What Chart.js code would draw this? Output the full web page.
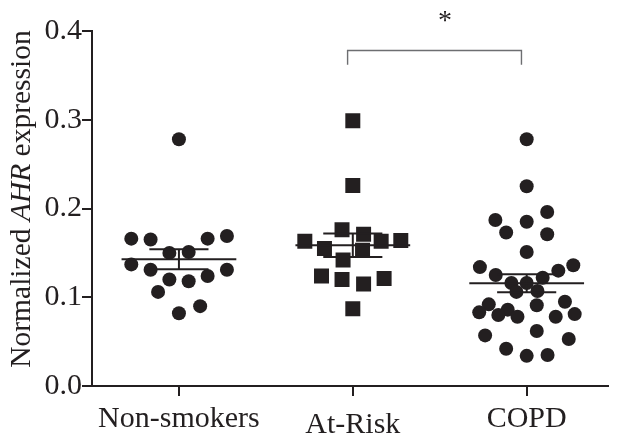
<!DOCTYPE html>
<html>
<head>
<meta charset="utf-8">
<script src="https://cdn.jsdelivr.net/npm/chart.js@4.4.1/dist/chart.umd.min.js"></script>
<style>
  html, body { margin: 0; padding: 0; background: #fff; overflow: hidden; }
  #chart { display: block; width: 619px; height: 438px; }
</style>
</head>
<body>
<canvas id="chart" width="619" height="438"></canvas>
<script>
// groups on the x axis
const groups = ['Non-smokers', 'At-Risk', 'COPD'];

// normalized AHR expression per subject
const nonSmokers = [0.278, 0.166, 0.165, 0.166, 0.169, 0.150, 0.151, 0.137, 0.131, 0.131, 0.120, 0.118, 0.124, 0.106, 0.082, 0.090];
const atRisk = [0.299, 0.226, 0.176, 0.171, 0.163, 0.163, 0.164, 0.155, 0.153, 0.142, 0.124, 0.120, 0.115, 0.121, 0.087];
const copd = [0.278, 0.225, 0.196, 0.187, 0.185, 0.173, 0.171, 0.151, 0.134, 0.136, 0.130, 0.125, 0.122, 0.116, 0.116,
  0.106, 0.107, 0.092, 0.095, 0.083, 0.086, 0.091, 0.080, 0.078, 0.081, 0.078, 0.057, 0.062, 0.053, 0.042, 0.034, 0.035];

// horizontal scatter of each dot around its group, in group units
const nonSmokersJitter = [0, -0.274, -0.163, 0.165, 0.276, -0.055, 0.056, -0.274, -0.163, 0.276, -0.055, 0.056, 0.165, -0.120, 0, 0.122];
const atRiskJitter = [0, 0, -0.062, 0.062, -0.276, 0.163, 0.276, -0.163, 0.056, -0.056, -0.180, -0.062, 0.062, 0.180, 0];
const copdJitter = [0, 0, 0.118, -0.180, 0, -0.118, 0.118, 0, -0.269, 0.268, 0.182, -0.178, 0.092, -0.088, 0,
  -0.059, 0.062, -0.218, 0.220, -0.273, -0.109, 0.058, -0.163, -0.053, 0.276, 0.167, -0.239, 0.058, 0.242, -0.118, 0, 0.120];

const yTicks = [0, 0.1, 0.2, 0.3, 0.4];

// significance bracket between At-Risk and COPD
const bracketX = [1.97, 2.97];
const bracketY = [0.362, 0.378];
const starLabel = '*';
const starPos = [2.53, 0.411];

const ink = '#231f20';
const serif = '"Liberation Serif", "Times New Roman", serif';

function stats(v) {
  const n = v.length;
  const mean = v.reduce((a, b) => a + b, 0) / n;
  const sd = Math.sqrt(v.reduce((a, b) => a + (b - mean) ** 2, 0) / (n - 1));
  return { mean, sem: sd / Math.sqrt(n) };
}

function dots(values, jitter, idx) {
  return values.map((y, i) => ({ x: idx + 1 + jitter[i], y }));
}

const pointSets = [
  { data: dots(nonSmokers, nonSmokersJitter, 0), pointStyle: 'circle', pointRadius: 7 },
  { data: dots(atRisk, atRiskJitter, 1), pointStyle: 'rect', pointRadius: 10.6 },
  { data: dots(copd, copdJitter, 2), pointStyle: 'circle', pointRadius: 7 }
].map((d) => ({
  ...d,
  type: 'scatter',
  backgroundColor: ink,
  borderWidth: 0,
  order: 2
}));

// mean line plus SEM whiskers as plain line segments
const lineSets = [];
[nonSmokers, atRisk, copd].forEach((vals, i) => {
  const c = i + 1;
  const { mean, sem } = stats(vals);
  const segs = [
    [[c - 0.33, mean], [c + 0.33, mean]],
    [[c, mean - sem], [c, mean + sem]],
    [[c - 0.17, mean + sem], [c + 0.17, mean + sem]],
    [[c - 0.17, mean - sem], [c + 0.17, mean - sem]]
  ];
  segs.forEach((s) => {
    lineSets.push({
      type: 'line',
      data: s.map(([x, y]) => ({ x, y })),
      borderColor: ink,
      borderWidth: 2,
      pointRadius: 0,
      fill: false,
      order: 0
    });
  });
});

const extras = {
  id: 'extras',
  afterDraw(chart) {
    const { ctx, scales: { x, y } } = chart;
    ctx.save();
    // bracket
    const x1 = x.getPixelForValue(bracketX[0]);
    const x2 = x.getPixelForValue(bracketX[1]);
    const yLow = y.getPixelForValue(bracketY[0]);
    const yTop = y.getPixelForValue(bracketY[1]);
    ctx.strokeStyle = '#6d6e71';
    ctx.lineWidth = 1.4;
    ctx.beginPath();
    ctx.moveTo(x1, yLow);
    ctx.lineTo(x1, yTop);
    ctx.lineTo(x2, yTop);
    ctx.lineTo(x2, yLow);
    ctx.stroke();
    ctx.fillStyle = ink;
    ctx.font = `28px ${serif}`;
    ctx.textAlign = 'center';
    ctx.textBaseline = 'middle';
    ctx.fillText(starLabel, x.getPixelForValue(starPos[0]), y.getPixelForValue(starPos[1]));

    // y title with italic gene name
    const parts = [['Normalized ', 'normal'], ['AHR', 'italic'], [' expression', 'normal']];
    const fontFor = (st) => `${st} 29.5px ${serif}`;
    let total = 0;
    parts.forEach(([t, st]) => { ctx.font = fontFor(st); total += ctx.measureText(t).width; });
    ctx.translate(30, 199);
    ctx.rotate(-Math.PI / 2);
    ctx.textAlign = 'left';
    ctx.textBaseline = 'alphabetic';
    let pos = -total / 2;
    parts.forEach(([t, st]) => {
      ctx.font = fontFor(st);
      ctx.fillText(t, pos, 0);
      pos += ctx.measureText(t).width;
    });
    ctx.restore();
  }
};

new Chart(document.getElementById('chart'), {
  type: 'scatter',
  data: { datasets: [...lineSets, ...pointSets] },
  options: {
    responsive: false,
    animation: false,
    devicePixelRatio: 1,
    layout: { padding: { top: 31, left: 0, right: 0, bottom: 0 } },
    plugins: { legend: { display: false }, tooltip: { enabled: false } },
    scales: {
      x: {
        type: 'linear',
        min: 0.5,
        max: 3.47,
        afterBuildTicks: (s) => { s.ticks = groups.map((_, i) => ({ value: i + 1 })); },
        afterFit: (s) => { s.height = 52; s.paddingLeft = 0; s.paddingRight = 0; },
        border: { color: ink, width: 2 },
        grid: { drawOnChartArea: false, drawTicks: true, tickLength: 10, color: ink, lineWidth: 2 },
        ticks: {
          color: ink,
          padding: 5,
          maxRotation: 0,
          // the middle label sits a little lower in the original
          font: (c) => ({ family: serif, size: 30, lineHeight: c.index === 1 ? 1.6 : 1.2 }),
          callback: (v) => groups[v - 1] ?? ''
        }
      },
      y: {
        min: 0,
        max: 0.4,
        afterBuildTicks: (s) => { s.ticks = yTicks.map((v) => ({ value: v })); },
        afterFit: (s) => { s.width = 92; },
        border: { color: ink, width: 2 },
        grid: { drawOnChartArea: false, drawTicks: true, tickLength: 10, color: ink, lineWidth: 2 },
        ticks: {
          color: ink,
          padding: 0,
          font: { family: serif, size: 30 },
          callback: (v) => v.toFixed(1)
        }
      }
    }
  },
  plugins: [extras]
});
</script>
</body>
</html>
